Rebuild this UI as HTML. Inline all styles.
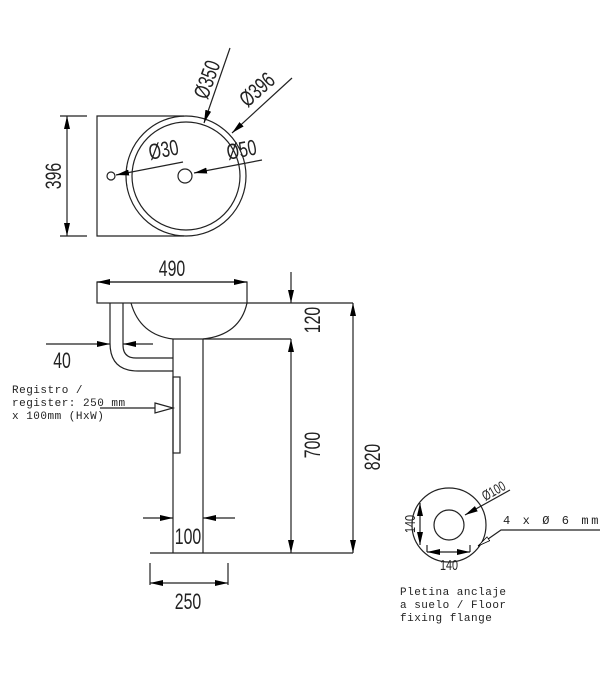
<!DOCTYPE html>
<html><head><style>
html,body{margin:0;padding:0;background:#fff;}
svg{display:block;}
text{font-family:"Liberation Sans",sans-serif;fill:#222;}
.d{font-family:"Liberation Sans",sans-serif;font-size:22px;}
.m{font-family:"Liberation Mono",monospace;font-size:11px;letter-spacing:0.5px;}
</style></head><body>
<svg width="600" height="691" viewBox="0 0 600 691" xmlns="http://www.w3.org/2000/svg">
<defs>
<marker id="a" viewBox="0 0 10 10" refX="10" refY="5" markerWidth="13" markerHeight="6" orient="auto-start-reverse" markerUnits="userSpaceOnUse" preserveAspectRatio="none"><path d="M0,0 L10,5 L0,10z" fill="#000"/></marker>
<marker id="o" viewBox="0 0 10 10" refX="10" refY="5" markerWidth="13" markerHeight="6" orient="auto" markerUnits="userSpaceOnUse" preserveAspectRatio="none"><path d="M0,1 L10,5 L0,9z" fill="#fff" stroke="#000" stroke-width="1.2"/></marker>
</defs>
<g stroke="#222" stroke-width="1.2" fill="none">
<path d="M184,116 H97 V236 H184"/>
<circle cx="186" cy="176" r="60"/>
<circle cx="186" cy="176" r="54"/>
<circle cx="111" cy="176" r="4"/>
<circle cx="185" cy="176" r="7"/>
<line x1="67" y1="116" x2="67" y2="236" marker-start="url(#a)" marker-end="url(#a)"/>
<line x1="60" y1="116" x2="87" y2="116"/><line x1="60" y1="236" x2="87" y2="236"/>
<line x1="230" y1="48" x2="204" y2="123" marker-end="url(#a)"/>
<line x1="292" y1="78" x2="232" y2="133" marker-end="url(#a)"/>
<line x1="183" y1="162" x2="116" y2="175" marker-end="url(#a)"/>
<line x1="262" y1="160" x2="194" y2="173" marker-end="url(#a)"/>
<rect x="97" y="282" width="150" height="21"/>
<line x1="97" y1="282" x2="247" y2="282" marker-start="url(#a)" marker-end="url(#a)"/>
<path d="M131,303 Q140,335 173,339 H203 Q240,335 247,303"/>
<line x1="173" y1="339" x2="173" y2="553"/>
<line x1="203" y1="339" x2="203" y2="553"/>
<line x1="150" y1="553" x2="353" y2="553"/>
<line x1="247" y1="303" x2="353" y2="303"/>
<line x1="203" y1="339" x2="291" y2="339"/>
<line x1="291" y1="339" x2="291" y2="553" marker-start="url(#a)" marker-end="url(#a)"/>
<line x1="353" y1="303" x2="353" y2="553" marker-start="url(#a)" marker-end="url(#a)"/>
<line x1="291" y1="272" x2="291" y2="303" marker-end="url(#a)"/>
<path d="M110,303 V343 Q110,371 138,371 H173"/>
<path d="M123,303 V345 Q123,358 136,358 H173"/>
<line x1="46" y1="344" x2="110" y2="344" marker-end="url(#a)"/>
<line x1="153" y1="344" x2="123" y2="344" marker-end="url(#a)"/>
<rect x="173" y="377" width="7" height="76"/>
<line x1="100" y1="408" x2="155" y2="408"/>
<path d="M155,403 L173,408 L155,413z"/>
<line x1="143" y1="518" x2="173" y2="518" marker-end="url(#a)"/>
<line x1="235" y1="518" x2="203" y2="518" marker-end="url(#a)"/>
<path d="M150,563 V585 M228,563 V585"/>
<line x1="150" y1="583" x2="228" y2="583" marker-start="url(#a)" marker-end="url(#a)"/>
<circle cx="449" cy="525" r="37"/>
<circle cx="449" cy="525" r="15"/>
<line x1="420" y1="503" x2="420" y2="545" marker-start="url(#a)" marker-end="url(#a)"/>
<line x1="427" y1="552" x2="470" y2="552" marker-start="url(#a)" marker-end="url(#a)"/>
<path d="M427,545 V552 M470,545 V552"/>
<line x1="510" y1="490" x2="465" y2="515" marker-end="url(#a)"/>
<path d="M601,530 H501 L478,546" marker-end="url(#o)"/>
</g>
<g>
<text class="d" transform="translate(61,176) rotate(-90) scale(0.72,1)" text-anchor="middle">396</text>
<text class="d" transform="translate(214,82) rotate(-70) scale(0.72,1)" text-anchor="middle">Ø350</text>
<text class="d" transform="translate(262,95) rotate(-42) scale(0.72,1)" text-anchor="middle">Ø396</text>
<text class="d" transform="translate(165,157) rotate(-11) scale(0.72,1)" text-anchor="middle">Ø30</text>
<text class="d" transform="translate(243,157) rotate(-11) scale(0.72,1)" text-anchor="middle">Ø50</text>
<text class="d" transform="translate(172,276) scale(0.72,1)" text-anchor="middle">490</text>
<text class="d" transform="translate(320,320) rotate(-90) scale(0.72,1)" text-anchor="middle">120</text>
<text class="d" transform="translate(320,445) rotate(-90) scale(0.72,1)" text-anchor="middle">700</text>
<text class="d" transform="translate(380,457) rotate(-90) scale(0.72,1)" text-anchor="middle">820</text>
<text class="d" transform="translate(62,368) scale(0.72,1)" text-anchor="middle">40</text>
<text class="d" transform="translate(188,544) scale(0.72,1)" text-anchor="middle">100</text>
<text class="d" transform="translate(188,609) scale(0.72,1)" text-anchor="middle">250</text>
<text class="m" x="12" y="393">Registro /</text>
<text class="m" x="12" y="406">register: 250 mm</text>
<text class="m" x="12" y="419">x 100mm (HxW)</text>
<text class="d" style="font-size:15px" transform="translate(449,570) scale(0.72,1)" text-anchor="middle">140</text>
<text class="d" style="font-size:15px" transform="translate(415,524) rotate(-90) scale(0.72,1)" text-anchor="middle">140</text>
<text class="d" style="font-size:14px" transform="translate(496,495) rotate(-30) scale(0.72,1)" text-anchor="middle">Ø100</text>
<text class="m" style="font-size:12px;letter-spacing:2.6px" x="503" y="524">4 x Ø 6 mm</text>
<text class="m" x="400" y="595">Pletina anclaje</text>
<text class="m" x="400" y="608">a suelo / Floor</text>
<text class="m" x="400" y="621">fixing flange</text>
</g>
</svg>
</body></html>
